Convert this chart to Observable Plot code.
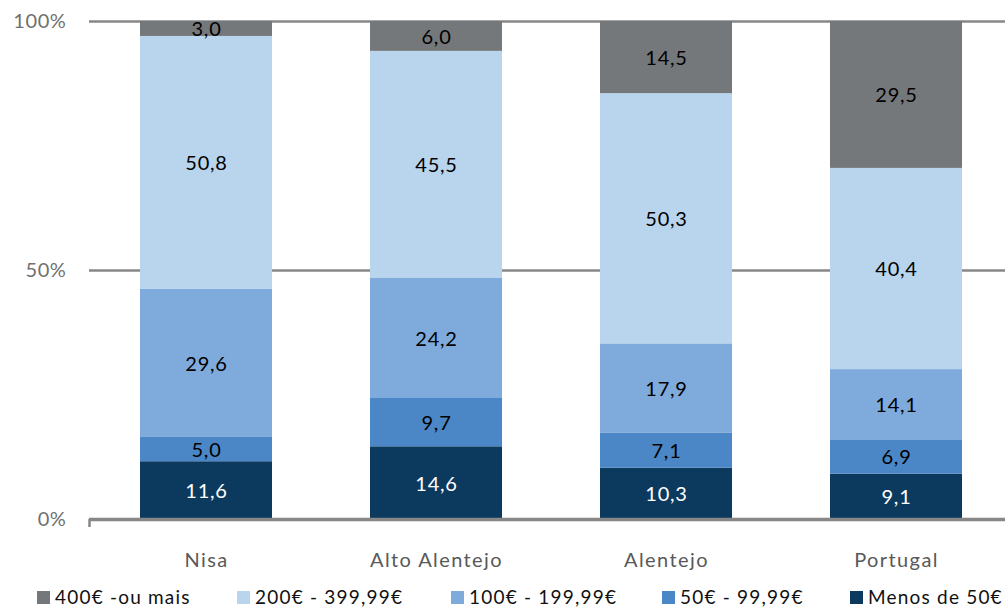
<!DOCTYPE html>
<html>
<head>
<meta charset="utf-8">
<script src="https://cdn.jsdelivr.net/npm/d3@7"></script>
<script src="https://cdn.jsdelivr.net/npm/@observablehq/plot@0.6"></script>
<style>
  html, body { margin: 0; padding: 0; background: #fff; }
  #wrap { position: relative; width: 1005px; height: 608px; overflow: hidden; font-family: Lato, "Open Sans", sans-serif; }
  #legend { position: absolute; left: 0; top: 586px; width: 1005px; height: 22px; }
  .li { position: absolute; top: 0; display: flex; align-items: center; font-size: 19px; color: #111; white-space: nowrap; letter-spacing: 1.2px; line-height: 22px; }
  .sw { width: 13px; height: 13px; margin-right: 5px; }
  svg [aria-label="x-axis tick label"] text { letter-spacing: 1.4px; }
  svg [aria-label="y-axis tick label"] text { letter-spacing: 0.6px; }
  svg [aria-label="text"] text { letter-spacing: 0.8px; }
</style>
</head>
<body>
<div id="wrap">
  <div id="chart"></div>
  <div id="legend"></div>
</div>
<script>
const categories = ["Nisa", "Alto Alentejo", "Alentejo", "Portugal"];
const seriesNames = ["Menos de 50€", "50€ - 99,99€", "100€ - 199,99€", "200€ - 399,99€", "400€ -ou mais"];
const menos50 = [11.6, 14.6, 10.3, 9.1];
const de50a99 = [5.0, 9.7, 7.1, 6.9];
const de100a199 = [29.6, 24.2, 17.9, 14.1];
const de200a399 = [50.8, 45.5, 50.3, 40.4];
const mais400 = [3.0, 6.0, 14.5, 29.5];
const yTicks = [0, 0.5, 1];
const colors = ["#0b3a5e", "#4b87c6", "#7eabdc", "#b9d4ed", "#75787b"];
const legendOrder = ["400€ -ou mais", "200€ - 399,99€", "100€ - 199,99€", "50€ - 99,99€", "Menos de 50€"];

const seriesValues = [menos50, de50a99, de100a199, de200a399, mais400];
const data = [];
seriesNames.forEach((s, si) => {
  categories.forEach((c, ci) => {
    data.push({category: c, series: s, value: seriesValues[si][ci]});
  });
});

const fmt = v => v.toFixed(1).replace(".", ",");

const chart = Plot.plot({
  width: 1005,
  height: 578,
  marginLeft: 89,
  marginRight: 0,
  marginTop: 21,
  marginBottom: 59,
  style: {fontFamily: "Lato, 'Open Sans', sans-serif", background: "#fff"},
  x: {domain: categories, range: [91, 1011], paddingInner: 0.425, paddingOuter: 0.2125, label: null},
  y: {domain: [0, 1], label: null},
  color: {domain: seriesNames, range: colors},
  marks: [
    Plot.ruleY([0.5, 1], {stroke: "#878787", strokeWidth: 2.5}),
    Plot.barY(data, Plot.stackY({
      x: "category", y: "value", fill: "series", offset: "normalize", order: seriesNames
    })),
    Plot.text(data, Plot.stackY({
      x: "category", y: "value", z: "series", offset: "normalize", order: seriesNames,
      text: d => fmt(d.value),
      fill: d => d.series === "Menos de 50€" ? "#ffffff" : "#000000",
      fontSize: 20, dy: 1
    })),
    Plot.ruleY([0], {stroke: "#878787", strokeWidth: 3.5}),
    Plot.axisY({ticks: yTicks, tickFormat: d => Math.round(d * 100) + "%", tickSize: 0, tickPadding: 23, fontSize: 20, fill: "#707070", label: null}),
    Plot.axisX({tickSize: 0, tickPadding: 33, fontSize: 20, fill: "#595959", label: null})
  ]
});
document.getElementById("chart").appendChild(chart);

// small tick at left end of the baseline
const svg = d3.select(chart);
const yScale = chart.scale("y");
svg.append("line")
  .attr("x1", 89.5).attr("x2", 89.5)
  .attr("y1", yScale.apply(0)).attr("y2", yScale.apply(0) + 8)
  .attr("stroke", "#878787").attr("stroke-width", 2.5);

const legend = document.getElementById("legend");
const legendX = [37, 237, 451, 662, 850];
legendOrder.forEach((s, i) => {
  const item = document.createElement("div");
  item.className = "li";
  item.style.left = legendX[i] + "px";
  const sw = document.createElement("span");
  sw.className = "sw";
  sw.style.background = colors[seriesNames.indexOf(s)];
  const t = document.createElement("span");
  t.textContent = s;
  item.appendChild(sw);
  item.appendChild(t);
  legend.appendChild(item);
});
</script>
</body>
</html>
